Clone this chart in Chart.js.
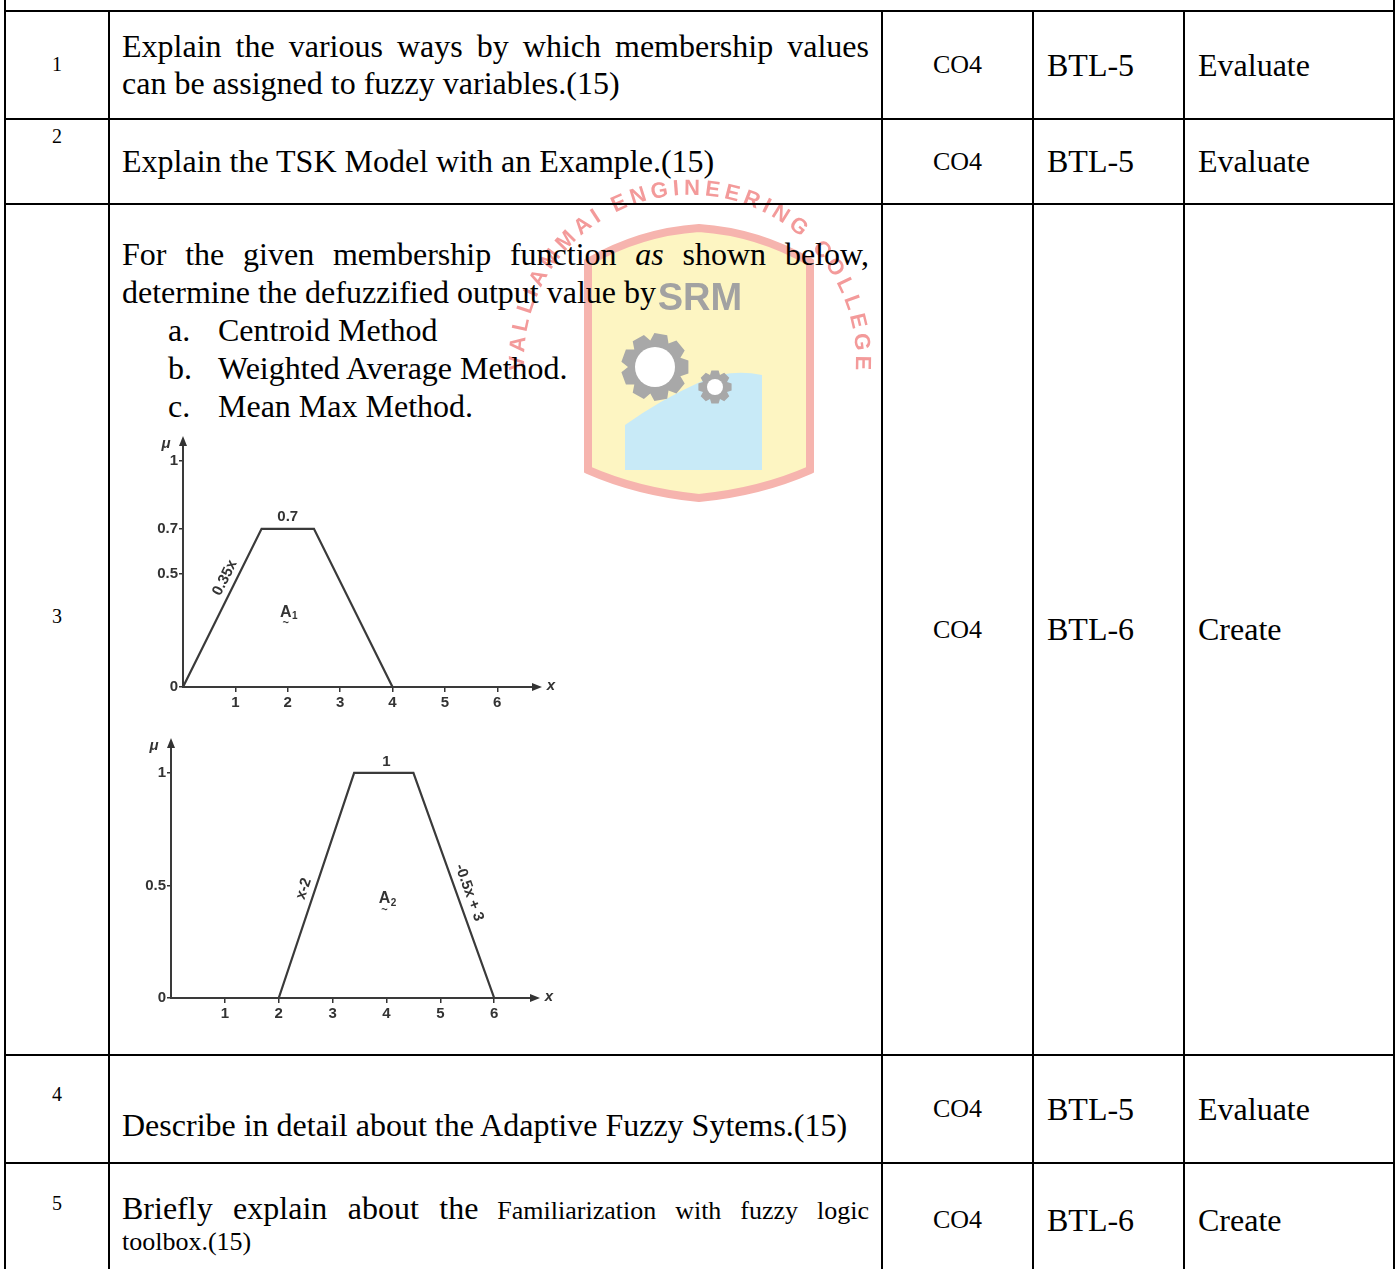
<!DOCTYPE html>
<html>
<head>
<meta charset="utf-8">
<script src="https://cdn.jsdelivr.net/npm/chart.js@4.4.0/dist/chart.umd.min.js"></script>
<style>
html, body { margin: 0; padding: 0; background: #fff; }
body { width: 1399px; height: 1269px; overflow: hidden; position: relative;
       font-family: "Liberation Serif", "Times New Roman", serif; color: #000; }
.grid { position: absolute; left: 4px; top: 0; display: grid; background: #000;
        grid-template-columns: 102px 771px 149px 149px 208px;
        grid-template-rows: 10px 106px 83px 849px 106px 112px;
        gap: 2px; padding: 0 2px 2px 2px; }
.grid > div { background: #fff; position: relative; }
.top { grid-column: 1 / -1; }
.num span { position: absolute; left: 0; right: 0; text-align: center; font-size: 20px; line-height: 24px; }
.q { font-size: 32px; line-height: 37px; padding: 0 12px; text-align: justify; }
.mid { display: flex; align-items: center; }
.co { display: flex; align-items: center; justify-content: center; font-size: 26px; }
.lv { display: flex; align-items: center; padding-left: 13px; font-size: 32px; }
.li { position: relative; padding-left: 96px; }
.li b { position: absolute; left: 46px; font-weight: normal; }
.sm { font-size: 26px; line-height: 30px; }
.big { font-size: 32px; line-height: 37px; }
canvas.fig { position: absolute; }
#mark { position: absolute; left: 0; top: 0; mix-blend-mode: multiply; pointer-events: none; }
</style>
</head>
<body>

<div class="grid">
  <div class="top"></div>

  <div class="num"><span style="top:40px">1</span></div>
  <div class="q mid"><div>Explain the various ways by which membership values can be assigned to fuzzy variables.(15)</div></div>
  <div class="co">CO4</div>
  <div class="lv">BTL-5</div>
  <div class="lv">Evaluate</div>

  <div class="num"><span style="top:4px">2</span></div>
  <div class="q mid"><div>Explain the TSK Model with an Example.(15)</div></div>
  <div class="co">CO4</div>
  <div class="lv">BTL-5</div>
  <div class="lv">Evaluate</div>

  <div class="num"><span style="top:399px">3</span></div>
  <div class="q" style="padding-top:30px;line-height:38px">
    <div>For the given membership function <i>as</i> shown below, determine the defuzzified output value by</div>
    <div class="li"><b>a.</b>Centroid Method</div>
    <div class="li"><b>b.</b>Weighted Average Method.</div>
    <div class="li"><b>c.</b>Mean Max Method.</div>
  </div>
  <div class="co">CO4</div>
  <div class="lv">BTL-6</div>
  <div class="lv">Create</div>

  <div class="num"><span style="top:26px">4</span></div>
  <div class="q" style="padding-top:14px"><br>Describe in detail about the Adaptive Fuzzy Sytems.(15)</div>
  <div class="co">CO4</div>
  <div class="lv">BTL-5</div>
  <div class="lv">Evaluate</div>

  <div class="num"><span style="top:27px">5</span></div>
  <div class="q sm" style="padding-top:26px"><span class="big">Briefly explain about the</span> Familiarization with fuzzy logic toolbox.(15)</div>
  <div class="co">CO4</div>
  <div class="lv">BTL-6</div>
  <div class="lv">Create</div>
</div>

<canvas id="figA1" class="fig" width="440" height="295" style="left:120px;top:428px"></canvas>
<canvas id="figA2" class="fig" width="450" height="300" style="left:110px;top:735px"></canvas>

<svg id="mark" width="1399" height="1269"></svg>

<script>
// membership function A1 (upper figure)
const a1X = [0, 1.5, 2.5, 4];
const a1Mu = [0, 0.7, 0.7, 0];
const a1YTicks = [0, 0.5, 0.7, 1];

// membership function A2 (lower figure)
const a2X = [2, 3.4, 4.5, 6];
const a2Mu = [0, 1, 1, 0];
const a2YTicks = [0, 0.5, 1];

const xTicks = [1, 2, 3, 4, 5, 6];

// labels written on the figures
const a1Labels = [
    { t: '0.7', x: 2.0, y: 0.7, dy: -12 },
    { t: '0.35x', seg: 0, at: 0.66, off: 11 },
    { t: 'A', sub: '1', x: 2.0, y: 0.33 }
];
const a2Labels = [
    { t: '1', x: 4.0, y: 1, dy: -11 },
    { t: 'x-2', seg: 0, at: 0.47, off: 11 },
    { t: '-0.5x + 3', seg: 2, at: 0.55, off: 12 },
    { t: 'A', sub: '2', x: 4.0, y: 0.44 }
];

const ink = '#333';
const figFont = '"Liberation Sans", Arial, sans-serif';

// Draw axis arrows, axis names and the text labels
const figLabels = {
    id: 'figLabels',
    afterDraw(chart, args, opts) {
        const c = chart.ctx;
        const xs = chart.scales.x, ys = chart.scales.y;
        const area = chart.chartArea;
        const x0 = xs.getPixelForValue(0), y0 = ys.getPixelForValue(0);
        c.save();
        c.fillStyle = ink;
        c.strokeStyle = ink;

        // arrow heads
        c.beginPath();
        c.moveTo(area.right + 7, y0);
        c.lineTo(area.right - 3, y0 - 4);
        c.lineTo(area.right - 3, y0 + 4);
        c.closePath();
        c.fill();
        c.beginPath();
        c.moveTo(x0, area.top - 7);
        c.lineTo(x0 - 4, area.top + 3);
        c.lineTo(x0 + 4, area.top + 3);
        c.closePath();
        c.fill();

        // axis names
        c.font = 'italic bold 15px ' + figFont;
        c.textAlign = 'center';
        c.textBaseline = 'middle';
        c.fillText('x', area.right + 16, y0 - 1);
        c.fillText('\u03bc', x0 - 17, area.top + 1);

        const pts = chart.data.datasets[0].data.map(p => ({
            x: xs.getPixelForValue(p.x), y: ys.getPixelForValue(p.y)
        }));

        opts.items.forEach(it => {
            c.save();
            c.font = 'bold 15px ' + figFont;
            if (it.seg !== undefined) {
                const p0 = pts[it.seg], p1 = pts[it.seg + 1];
                const a = Math.atan2(p1.y - p0.y, p1.x - p0.x);
                const px = p0.x + (p1.x - p0.x) * it.at + Math.sin(a) * it.off;
                const py = p0.y + (p1.y - p0.y) * it.at - Math.cos(a) * it.off;
                c.translate(px, py);
                c.rotate(a);
                c.fillText(it.t, 0, 0);
            } else {
                const px = xs.getPixelForValue(it.x);
                const py = ys.getPixelForValue(it.y) + (it.dy || 0);
                if (it.sub) {
                    c.font = 'bold 16px ' + figFont;
                    c.fillText(it.t, px - 2, py);
                    c.font = 'bold 10px ' + figFont;
                    c.fillText(it.sub, px + 7, py + 4);
                    c.font = 'bold 11px ' + figFont;
                    c.fillText('~', px - 2, py + 11);
                } else {
                    c.fillText(it.t, px, py);
                }
            }
            c.restore();
        });
        c.restore();
    }
};

function makeFigure(id, xv, mu, yTicks, yMax, labels, yWidth, xHeight, pad) {
    return new Chart(document.getElementById(id), {
        type: 'line',
        data: {
            datasets: [{
                data: xv.map((x, i) => ({ x: x, y: mu[i] })),
                borderColor: '#3a3a3a',
                borderWidth: 2.2,
                pointRadius: 0,
                tension: 0,
                fill: false
            }]
        },
        options: {
            responsive: false,
            animation: false,
            devicePixelRatio: 1,
            layout: { padding: pad },
            plugins: {
                legend: { display: false },
                tooltip: { enabled: false },
                figLabels: { items: labels }
            },
            scales: {
                x: {
                    type: 'linear', min: 0, max: 6.72,
                    afterBuildTicks: s => { s.ticks = xTicks.map(v => ({ value: v })); },
                    afterFit: s => { s.height = xHeight; },
                    grid: { drawOnChartArea: false, tickLength: 5, color: ink, lineWidth: 1.5 },
                    border: { color: '#3a3a3a', width: 2 },
                    ticks: { autoSkip: false, padding: 2, color: ink,
                             font: { family: figFont, size: 15, weight: 'bold' },
                             callback: v => String(v) }
                },
                y: {
                    min: 0, max: yMax,
                    afterBuildTicks: s => { s.ticks = yTicks.map(v => ({ value: v })); },
                    afterFit: s => { s.width = yWidth; },
                    grid: { drawOnChartArea: false, tickLength: 4, color: ink, lineWidth: 1.5 },
                    border: { color: '#3a3a3a', width: 2 },
                    ticks: { autoSkip: false, padding: 1, color: ink,
                             font: { family: figFont, size: 15, weight: 'bold' },
                             callback: v => String(v) }
                }
            }
        },
        plugins: [figLabels]
    });
}

makeFigure('figA1', a1X, a1Mu, a1YTicks, 1.08, a1Labels, 63, 36,
           { left: 0, right: 25, top: 15, bottom: 0 });
makeFigure('figA2', a2X, a2Mu, a2YTicks, 1.124, a2Labels, 61, 37,
           { left: 0, right: 27, top: 10, bottom: 0 });

// faint college logo behind the question text
function gearPath(cx, cy, rOut, rIn, n) {
    let d = '';
    for (let i = 0; i < n; i++) {
        const a = i * 2 * Math.PI / n, w = Math.PI / n;
        const p = [[a - w, rIn], [a - w * 0.55, rOut], [a + w * 0.55, rOut], [a + w, rIn]];
        p.forEach((q, k) => {
            d += (i === 0 && k === 0 ? 'M' : 'L') + (cx + q[1] * Math.cos(q[0])).toFixed(1) + ',' + (cy + q[1] * Math.sin(q[0])).toFixed(1);
        });
    }
    return d + 'Z';
}
document.getElementById('mark').innerHTML =
    '<path d="M588,470 L588,262 Q640,232 699,228 Q758,232 810,262 L810,470 Q760,492 699,498 Q638,492 588,470 Z" fill="#fdf5c2" stroke="#f6b4ae" stroke-width="8"/>' +
    '<path d="M625,470 L625,425 Q660,400 700,382 Q730,368 762,375 L762,470 Z" fill="#c8eaf7"/>' +
    '<path d="' + gearPath(655, 367, 34, 27, 9) + '" fill="#a8a8a8"/>' +
    '<circle cx="655" cy="367" r="20" fill="#fff"/>' +
    '<path d="' + gearPath(715, 387, 17, 13, 8) + '" fill="#a8a8a8"/>' +
    '<circle cx="715" cy="387" r="8" fill="#fff"/>' +
    '<text x="700" y="310" text-anchor="middle" font-family="Liberation Sans, Arial, sans-serif" font-weight="bold" font-size="38" fill="#a2a2a2">SRM</text>' +
    '<path id="arc" d="M525,379 A166,166 0 1 1 855,379" fill="none"/>' +
    '<text font-family="Liberation Sans, Arial, sans-serif" font-weight="bold" font-size="22" fill="#f39a9a">' +
    '<textPath href="#arc" startOffset="50%" text-anchor="middle" textLength="540" lengthAdjust="spacing">VALLIAMMAI ENGINEERING COLLEGE</textPath></text>';
</script>
</body>
</html>
